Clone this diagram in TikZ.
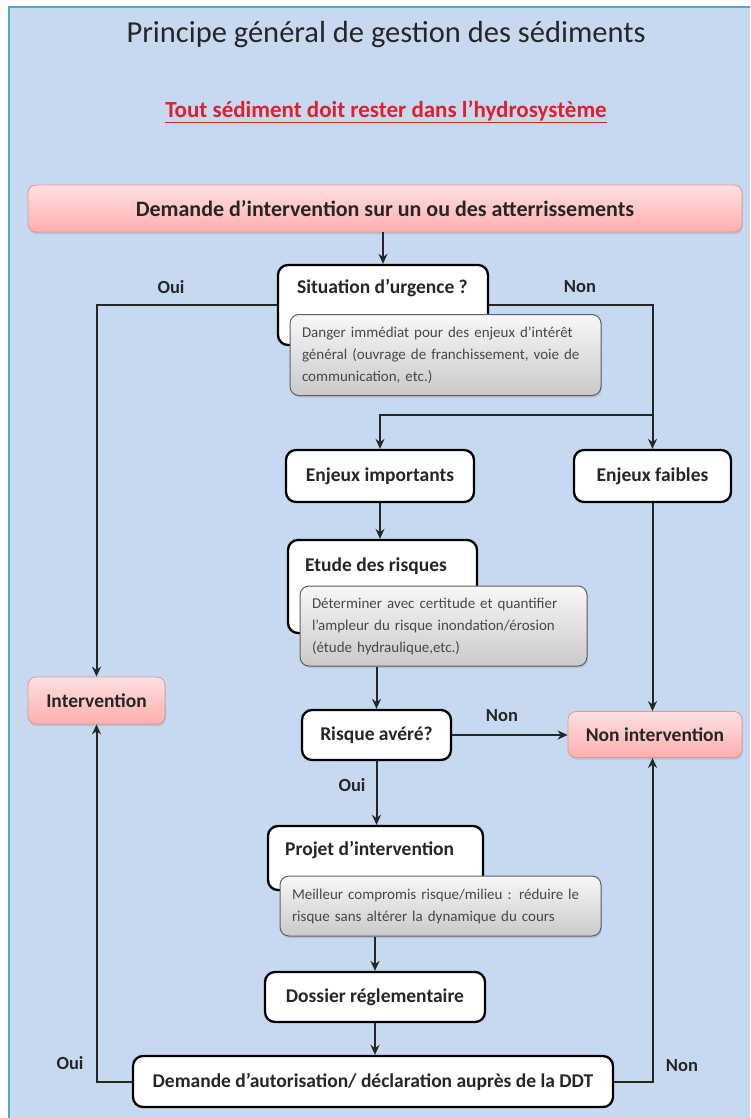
\documentclass[tikz,border=0pt]{standalone}
\usepackage{fontspec}
\setmainfont{Carlito}
\usetikzlibrary{arrows.meta,shadows}
\definecolor{bgblue}{HTML}{C6D9F1}
\definecolor{bordc}{HTML}{4BACC6}
\definecolor{pinktop}{HTML}{FFE0E0}
\definecolor{pinkbot}{HTML}{FFAEAE}
\definecolor{pinkdraw}{HTML}{D99A9A}
\definecolor{txt}{HTML}{262626}
\definecolor{gtxt}{HTML}{484848}
\definecolor{subred}{HTML}{E0202A}
\begin{document}
\begin{tikzpicture}[x=1pt,y=-1pt,
  wbox/.style={draw=black, line width=2.3pt, fill=white, rounded corners=10pt, inner sep=0pt,
    font=\bfseries\fontsize{19.5}{22}\selectfont, text=txt},
  pbox/.style={draw=pinkdraw, line width=0.8pt, top color=pinktop, bottom color=pinkbot,
    rounded corners=8pt, inner sep=0pt, drop shadow={shadow xshift=1pt, shadow yshift=-2pt, opacity=0.25},
    font=\bfseries\fontsize{19.5}{22}\selectfont, text=txt},
  gbox/.style={draw=gray!75!black, line width=1pt, top color=gray!6, bottom color=gray!42,
    rounded corners=9pt, align=left, inner xsep=12pt, inner ysep=0pt,
    drop shadow={shadow xshift=1pt, shadow yshift=-2pt, opacity=0.25},
    font=\fontsize{15}{22}\selectfont, text=gtxt},
  lbl/.style={font=\bfseries\fontsize{19.5}{22}\selectfont, text=txt, inner sep=0pt},
  yn/.style={font=\bfseries\fontsize{18.5}{20}\selectfont, text=txt, inner sep=0pt},
  conn/.style={line width=2pt, draw=txt, -{Stealth[length=10pt,width=9pt]}}
]
\useasboundingbox (0,0) rectangle (750,1118);
\fill[white] (0,0) rectangle (750,1118);
\fill[bgblue] (9,7) rectangle (750,1118);
\draw[bordc, line width=2pt] (9,1118) -- (9,7) -- (750,7);

% titles
\node[font=\fontsize{30.5}{34}\selectfont, text=txt] (title) at (386,35) {Principe général de gestion des sédiments};
\node[font=\bfseries\fontsize{23}{26}\selectfont, text=subred] (sub) at (386,112) {\underline{Tout sédiment doit rester dans l’hydrosystème}};

% top box
\node[pbox, minimum width=714pt, minimum height=47pt, font=\bfseries\fontsize{22}{24}\selectfont] (top) at (385,208.5) {Demande d'intervention sur un ou des atterrissements};

% Situation
\node[wbox, minimum width=210pt, minimum height=80pt] (sit) at (383,305) {};
\node[lbl, anchor=west] (sit-t) at (297,288) {Situation d’urgence ?};
\node[gbox, minimum width=311pt, minimum height=81pt, text width=287pt] (g1) at (445.5,355)
  {Danger immédiat pour des enjeux d’intérêt\\général (ouvrage de franchissement, voie de\\communication, etc.)};

% Enjeux
\node[wbox, minimum width=188pt, minimum height=52pt] (imp) at (380,476) {Enjeux importants};
\node[wbox, minimum width=157pt, minimum height=52pt] (fai) at (652.5,476) {Enjeux faibles};

% Etude
\node[wbox, minimum width=189pt, minimum height=93pt] (etu) at (382.5,586.5) {};
\node[lbl, anchor=west] (etu-t) at (305,566) {Etude des risques};
\node[gbox, minimum width=287pt, minimum height=80pt, text width=263pt] (g2) at (443.5,626)
  {Déterminer avec certitude et quantifier\\l’ampleur du risque inondation/érosion\\(étude hydraulique,etc.)};

% Risque
\node[wbox, minimum width=149pt, minimum height=50pt] (ris) at (376.5,735) {Risque avéré?};
\node[pbox, minimum width=174pt, minimum height=46pt] (non) at (655,734.5) {Non intervention};
\node[pbox, minimum width=137pt, minimum height=47pt] (int) at (96.5,700.5) {Intervention};

% Projet
\node[wbox, minimum width=215pt, minimum height=64pt] (proj) at (375.5,858) {};
\node[lbl, anchor=west] (proj-t) at (285,850) {Projet d’intervention};
\node[gbox, minimum width=321pt, minimum height=60pt, text width=297pt] (g3) at (440.5,906)
  {Meilleur compromis risque/milieu : réduire le\\risque sans altérer la dynamique du cours};

% Dossier / Demande
\node[wbox, minimum width=220pt, minimum height=50pt] (dos) at (375,997) {Dossier réglementaire};
\node[wbox, minimum width=480pt, minimum height=51pt] (dem) at (373,1081.5) {Demande d’autorisation/ déclaration auprès de la DDT};

% connectors
\draw[conn] (top.south -| sit.north) -- (sit.north);
\draw[conn] (sit.west) -- (sit.west -| int.north) -- (int.north);
\draw[conn] (sit.east) -- (sit.east -| fai.north) -- (fai.north);
\coordinate (br) at (652.5,415);
\draw[conn] (br) -| (imp.north);
\draw[conn] (imp.south) -- (imp.south |- etu.north);
\draw[conn] (ris.north |- g2.south) -- (ris.north);
\draw[conn] (ris.east) -- (ris.east -| non.west);
\draw[conn] (fai.south) -- (fai.south |- non.north);
\draw[conn] (ris.south) -- (ris.south |- proj.north);
\draw[conn] (dos.north |- g3.south) -- (dos.north);
\draw[conn] (dos.south) -- (dos.south |- dem.north);
\draw[conn] (dem.west) -- (dem.west -| int.south) -- (int.south);
\draw[conn] (dem.east) -- (dem.east -| fai.south) -- (fai.south |- non.south);

% labels
\node[yn] (l1) at (171,287) {Oui};
\node[yn] (l2) at (580,287) {Non};
\node[yn] (l3) at (502,716) {Non};
\node[yn] (l4) at (352,785) {Oui};
\node[yn] (l5) at (70,1063) {Oui};
\node[yn] (l6) at (682,1066) {Non};
\end{tikzpicture}
\end{document}
